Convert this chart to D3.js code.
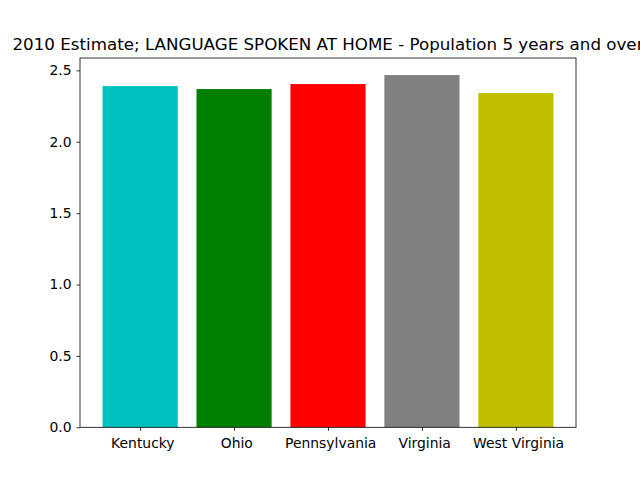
<!DOCTYPE html>
<html><head><meta charset="utf-8">
<script src="https://cdn.jsdelivr.net/npm/d3@7"></script>
<style>body{margin:0;background:#fff}svg{display:block}text{font-family:"DejaVu Sans",sans-serif;fill:#000}</style>
</head><body>
<script>
const categories = ["Kentucky","Ohio","Pennsylvania","Virginia","West Virginia"];
const values = [2.390, 2.369, 2.404, 2.467, 2.341];
const colors = ["#00bfbf","#008000","#ff0000","#808080","#bfbf00"];
const yTicks = [0.0,0.5,1.0,1.5,2.0,2.5];
const title = "2010 Estimate; LANGUAGE SPOKEN AT HOME - Population 5 years and over";

const W=640,H=480, L=80, R=576, T=58, B=427.3;
const svg=d3.select("body").append("svg").attr("width",W).attr("height",H);
const x=d3.scaleLinear().domain([-0.64,4.64]).range([L,R]);
const y=d3.scaleLinear().domain([0,2.5865]).range([B,T]);

svg.selectAll("rect.bar").data(values).join("rect").attr("class","bar")
 .attr("x",(d,i)=>x(i-0.4)).attr("width",(d,i)=>x(i+0.4)-x(i-0.4))
 .attr("y",d=>y(d)).attr("height",d=>B-y(d)).attr("fill",(d,i)=>colors[i]);

const ya=svg.append("g").attr("transform",`translate(${L},0)`)
 .call(d3.axisLeft(y).tickValues(yTicks).tickFormat(d3.format(".1f")).tickSize(3.5).tickPadding(5));
const xa=svg.append("g").attr("transform",`translate(0,${B})`)
 .call(d3.axisBottom(x).tickValues(d3.range(categories.length)).tickFormat(i=>" "+categories[i]).tickSize(3.5).tickPadding(5));
[ya,xa].forEach(a=>{a.select(".domain").remove();a.selectAll("text").style("font-size","13.9px").style("font-family","DejaVu Sans").style("white-space","pre");a.selectAll("line").attr("stroke","#000").attr("stroke-width",0.8);});
xa.selectAll("text").attr("dy","0.9em");

svg.append("rect").attr("x",L).attr("y",T).attr("width",R-L).attr("height",B-T)
 .attr("fill","none").attr("stroke","#000").attr("stroke-width",0.8);

svg.append("text").attr("x",(L+R)/2).attr("y",T-8).attr("text-anchor","middle")
 .style("font-size","16.7px").text(title);
</script>
</body></html>
